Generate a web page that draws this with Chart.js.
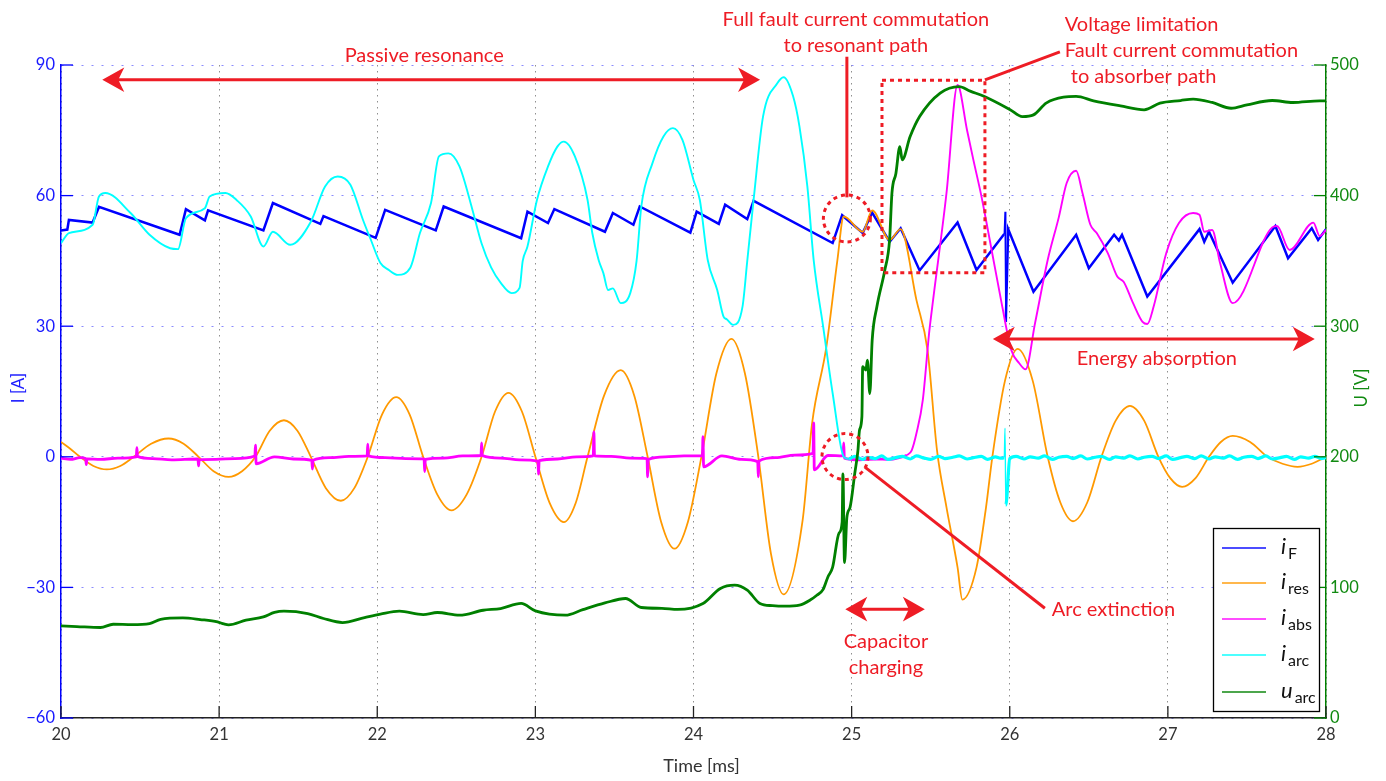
<!DOCTYPE html>
<html>
<head>
<meta charset="utf-8">
<title>Fault current commutation</title>
<script src="https://cdn.jsdelivr.net/npm/chart.js@4.4.1/dist/chart.umd.min.js"></script>
<style>
html,body{margin:0;padding:0;background:#ffffff;}
#wrap{position:relative;width:1386px;height:781px;}
#c{display:block;}
</style>
</head>
<body>
<div id="wrap"><canvas id="c" width="1386" height="781"></canvas></div>
<script>
// ---------------- data (time in ms, currents in A, voltage in V) ----------------
const xTicks = [20, 21, 22, 23, 24, 25, 26, 27, 28];
const leftTicks = [-60, -30, 0, 30, 60, 90];
const rightTicks = [0, 100, 200, 300, 400, 500];

const seriesLabels = ['i_F', 'i_res', 'i_abs', 'i_arc', 'u_arc'];
const legendMain = ['i', 'i', 'i', 'i', 'u'];
const legendSub = ['F', 'res', 'abs', 'arc', 'arc'];

// i_F  (fault current)
const tF = [20.00,20.04,20.05,20.20,20.24,20.75,20.79,20.91,20.93,21.28,21.34,21.64,21.66,21.99,22.05,22.37,22.42,22.91,22.95,23.08,23.12,23.44,23.49,23.62,23.66,23.98,24.02,24.16,24.20,24.34,24.38,24.88,24.94,25.07,25.13,25.24,25.31,25.43,25.67,25.79,25.965,25.97,25.975,25.99,26.15,26.42,26.50,26.66,26.69,26.71,26.87,27.20,27.23,27.26,27.41,27.68,27.76,27.91,27.95,28.00];
const iF = [52.0,52.2,54.4,53.8,57.4,51.0,56.9,54.3,56.6,52.0,58.3,53.5,55.3,50.3,56.7,52.0,57.5,50.2,56.3,53.7,56.9,51.7,56.0,53.3,57.5,51.5,56.3,53.5,57.9,54.6,58.8,49.1,55.5,51.4,56.1,49.4,52.5,42.8,53.8,42.9,51.2,56.3,31.0,52.3,37.9,51.0,43.3,51.0,49.7,51.0,36.8,52.3,49.4,51.7,40.0,53.0,45.6,52.5,49.8,52.3];

// i_res (resonant path current)
const tRes = [20.00,20.06,20.12,20.205,20.29,20.375,20.46,20.57,20.68,20.775,20.87,20.965,21.06,21.145,21.23,21.32,21.41,21.495,21.58,21.675,21.77,21.855,21.94,22.03,22.12,22.205,22.29,22.38,22.47,22.565,22.66,22.745,22.83,22.915,23.00,23.09,23.18,23.255,23.33,23.435,23.54,23.625,23.71,23.795,23.88,23.965,24.05,24.145,24.24,24.325,24.41,24.49,24.57,24.69,24.75,24.84,24.91,24.95,25.07,25.13,25.24,25.31,25.41,25.48,25.54,25.60,25.67,25.70,25.79,25.85,25.89,25.97,26.05,26.145,26.24,26.32,26.40,26.49,26.58,26.67,26.76,26.85,26.94,27.015,27.09,27.175,27.26,27.335,27.41,27.52,27.63,27.725,27.82,27.91,28.00];
const iRes = [3.4,1.8,0,-2.1,-2.9,-2.1,0,3.0,4.2,3.0,0,-3.3,-4.6,-3.3,0,6.0,8.4,6.0,0,-7.2,-10.1,-7.2,0,9.7,13.7,9.7,0,-8.7,-12.3,-8.7,0,10.4,14.7,10.4,0,-10.6,-15.0,-10.6,0,14.1,19.9,14.1,0,-14.9,-21.1,-14.9,0,19.2,27.1,19.2,0,-22.3,-31.6,-14.6,7.7,25.2,45.2,55.2,51.7,56.6,49.8,52.3,36.0,24.5,1.5,-11.6,-25.4,-32.8,-25.4,-11.6,0,17.5,24.8,17.5,0,-10.5,-14.8,-10.5,0,8.3,11.7,8.3,0,-4.9,-6.9,-4.9,0,3.4,4.8,3.4,0,-1.6,-2.3,-1.6,0];

// i_abs (absorber path current)
const tAbs = [20.00,20.06,20.12,20.156,20.16,20.164,20.25,20.36,20.476,20.48,20.484,20.58,20.70,20.866,20.87,20.874,20.98,21.10,21.226,21.23,21.234,21.35,21.47,21.586,21.59,21.594,21.70,21.82,21.936,21.94,21.944,22.05,22.18,22.296,22.30,22.304,22.42,22.54,22.656,22.66,22.664,22.78,22.90,23.016,23.02,23.024,23.14,23.26,23.366,23.37,23.374,23.48,23.60,23.706,23.71,23.714,23.82,23.94,24.056,24.06,24.064,24.18,24.30,24.406,24.41,24.414,24.52,24.64,24.756,24.76,24.764,24.85,24.946,24.95,24.954,25.05,25.15,25.24,25.30,25.35,25.38,25.41,25.45,25.49,25.51,25.60,25.67,25.73,25.77,25.82,25.87,25.95,26.01,26.06,26.10,26.16,26.24,26.31,26.36,26.42,26.46,26.51,26.55,26.62,26.68,26.72,26.78,26.84,26.87,26.91,26.99,27.07,27.16,27.20,27.23,27.28,27.33,27.41,27.66,27.69,27.77,27.92,27.96,28.00];
const iAbs = [-0.3,-0.6,-0.2,-0.4,-1.8,-0.5,-0.6,-0.3,0.0,2.1,0.1,-0.4,-0.7,-0.5,-2.1,-0.7,-0.6,-0.4,0.2,2.7,-1.6,0.0,-0.5,-0.8,-2.8,-0.8,-0.2,0.1,0.2,2.9,0.2,-0.2,-0.4,-0.5,-3.4,-0.6,-0.3,0.2,0.3,3.2,0.3,-0.3,-0.7,-1.0,-4.0,-0.9,-0.5,0.0,0.2,5.7,0.2,0.1,-0.3,-0.4,-4.6,-0.6,0.0,0.2,0.2,4.6,-2.3,0.2,-0.6,-1.1,-4.6,-1.0,-0.2,0.4,0.8,7.8,-3.0,0.3,0.2,3.2,-0.3,-0.7,-0.5,-0.6,-0.2,0.4,1.5,5.4,13.0,28.4,34.5,60.6,85.4,75.0,68.2,60.0,50.5,35.0,24.5,21.5,20.1,30.7,45.2,55.0,62.9,65.7,60.6,53.3,51.4,46.8,41.4,40.2,35.3,31.0,30.5,34.5,46.8,53.7,56.0,55.6,51.7,52.1,44.5,35.3,52.7,53.0,47.5,53.8,50.7,52.1];

// i_arc (arc current)
const tArc = [20.00,20.05,20.20,20.24,20.28,20.44,20.56,20.69,20.74,20.79,20.91,20.94,21.04,21.11,21.20,21.28,21.34,21.45,21.58,21.67,21.75,21.83,21.91,21.96,22.02,22.07,22.13,22.21,22.27,22.34,22.39,22.45,22.52,22.60,22.66,22.72,22.78,22.85,22.90,22.92,22.95,23.01,23.08,23.14,23.18,23.25,23.33,23.36,23.40,23.43,23.46,23.49,23.54,23.60,23.64,23.67,23.74,23.81,23.87,23.93,24.00,24.04,24.09,24.15,24.19,24.21,24.25,24.31,24.34,24.38,24.44,24.53,24.57,24.63,24.67,24.72,24.76,24.82,24.88,24.95,
  24.98,25.02,25.07,25.10,25.15,25.19,25.23,25.28,25.32,25.37,25.41,25.46,25.50,25.55,25.59,25.64,25.68,25.73,25.77,25.82,25.86,25.91,25.94,25.965,25.97,25.975,26.00,26.04,26.09,26.13,26.18,26.22,26.27,26.31,26.36,26.40,26.45,26.49,26.54,26.58,26.63,26.67,26.72,26.76,26.81,26.85,26.90,26.94,26.99,27.03,27.08,27.12,27.17,27.21,27.26,27.30,27.35,27.39,27.44,27.48,27.53,27.57,27.62,27.66,27.71,27.75,27.80,27.84,27.89,27.93,27.97,28.00];
const iArc = [49.1,51.4,53.3,59.8,60.6,56.0,51.0,47.9,47.7,54.8,57.1,59.8,60.6,59.0,55.2,48.3,51.7,48.7,54.0,62.1,64.4,62.5,54.4,49.8,44.5,43.0,41.8,43.5,51.4,58.3,69.0,69.7,66.7,57.0,49.0,43.5,40.0,37.6,38.8,45.0,48.3,59.0,66.7,71.3,72.4,69.0,59.0,51.4,45.2,42.2,38.3,38.7,35.3,37.6,45.0,57.5,67.4,73.6,75.5,72.8,63.6,59.0,45.2,38.3,32.2,31.6,30.3,34.5,45.0,59.0,78.2,85.8,87.2,82.8,75.9,62.1,45.2,29.9,14.6,0.0,
  -0.5,0.1,-0.6,-0.1,-0.4,0.2,-0.6,-0.2,0.1,-0.5,0.2,-0.3,-0.6,0.1,-0.4,-0.1,0.2,-0.5,-0.2,0.1,-0.6,0.0,-0.3,-0.2,6.6,-11.1,-0.4,0.1,-0.5,0.0,-0.3,0.2,-0.6,-0.1,0.1,-0.4,0.2,-0.5,-0.1,0.1,-0.6,0.0,-0.3,0.2,-0.5,-0.1,0.1,-0.4,0.2,-0.6,-0.2,0.1,-0.4,0.2,-0.5,0.0,-0.3,0.2,-0.6,-0.1,0.1,-0.4,0.2,-0.5,-0.2,0.1,-0.6,0.0,-0.3,0.1,-0.4,-0.2];

// u_arc (arc voltage, right axis)
const tU = [20.00,20.10,20.25,20.33,20.45,20.56,20.63,20.77,20.88,20.99,21.03,21.06,21.17,21.28,21.35,21.41,21.56,21.66,21.78,21.92,22.02,22.14,22.29,22.38,22.52,22.67,22.78,22.91,23.00,23.19,23.30,23.44,23.57,23.67,23.80,23.90,24.06,24.17,24.26,24.34,24.42,24.50,24.58,24.67,24.74,24.78,24.82,24.85,24.88,24.92,24.94,24.945,24.955,24.97,24.99,25.02,25.04,25.05,25.065,25.07,25.09,25.10,25.115,25.13,25.16,25.21,25.24,25.255,25.28,25.305,25.32,25.37,25.43,25.56,25.68,25.75,25.84,26.00,26.08,26.15,26.23,26.34,26.42,26.53,26.70,26.85,26.95,27.08,27.16,27.28,27.40,27.50,27.66,27.79,27.96,28.00];
const uArc = [70.5,70.0,69.3,71.8,71.5,72.3,75.6,76.6,75.4,73.6,72.0,71.3,74.9,77.4,80.8,81.8,80.0,76.2,73.1,76.9,79.5,81.8,79.2,80.8,78.7,82.5,83.8,87.7,82.0,78.7,83.0,88.1,91.5,84.6,84.0,83.1,87.7,99.2,101.7,97.9,87.7,86.0,85.6,86.4,90.5,94.0,98.5,108.0,115.5,141.5,150.0,187.0,119.0,153.6,161.3,187.4,205.0,220.5,230.7,269.0,266.4,274.0,248.4,289.4,315.0,343.0,366.0,402.0,417.0,437.5,427.4,445.2,460.5,478.5,483.5,480.0,475.9,466.0,460.5,461.8,470.8,475.4,475.9,472.6,468.7,465.7,470.8,472.8,473.9,471.3,466.9,469.5,472.8,471.3,472.6,472.6];

const seriesColors = ['#0000ff', '#ff9900', '#ff00ff', '#00ffff', '#008000'];

// ---------------- annotations (in data units of the x / left-y axes) ----------------
const RED = '#ee1c25';
const notes = [
  {kind:'darrow', t1:20.261, t2:24.421, v:86.6},
  {kind:'text', t:22.297, v:90.70, align:'center', text:'Passive resonance'},
  {kind:'text', t:25.027, v:99.01, align:'center', text:'Full fault current commutation'},
  {kind:'text', t:25.027, v:93.03, align:'center', text:'to resonant path'},
  {kind:'line', t1:24.97, v1:91.9, t2:24.97, v2:59.6},
  {kind:'circle', t:24.97, v:54.75, r:23.5},
  {kind:'rect', t1:25.192, v1:86.5, t2:25.843, v2:42.3},
  {kind:'line', t1:25.843, v1:86.6, t2:26.317, v2:93.0},
  {kind:'text', t:26.348, v:97.86, align:'left', text:'Voltage limitation'},
  {kind:'text', t:26.348, v:91.89, align:'left', text:'Fault current commutation'},
  {kind:'text', t:26.386, v:85.91, align:'left', text:'to absorber path'},
  {kind:'circle', t:24.958, v:0.05, r:23},
  {kind:'line', t1:25.084, v1:-2.37, t2:26.222, v2:-34.78},
  {kind:'text', t:26.266, v:-36.62, align:'left', text:'Arc extinction'},
  {kind:'darrow', t1:24.96, t2:25.463, v:-35.0},
  {kind:'text', t:25.217, v:-43.98, align:'center', text:'Capacitor'},
  {kind:'text', t:25.217, v:-49.95, align:'center', text:'charging'},
  {kind:'darrow', t1:25.893, t2:27.929, v:27.05},
  {kind:'text', t:26.930, v:21.08, align:'center', text:'Energy absorption'}
];

function check(a, b, n) { if (a.length !== b.length) throw new Error(n + ' length mismatch ' + a.length + ' vs ' + b.length); }
check(tF, iF, 'iF'); check(tRes, iRes, 'iRes'); check(tAbs, iAbs, 'iAbs'); check(tArc, iArc, 'iArc'); check(tU, uArc, 'uArc');

const pts = (ts, vs) => ts.map((t, i) => ({x: t, y: vs[i]}));
const fmt = v => (v < 0 ? '\u2212' + Math.abs(v) : String(v));

function seg(ctx, x1, y1, x2, y2) { ctx.beginPath(); ctx.moveTo(x1, y1); ctx.lineTo(x2, y2); ctx.stroke(); }

function arrowHead(ctx, x, y, dir) {
  const L = 22, W = 12.3, N = 16;
  ctx.beginPath();
  ctx.moveTo(x, y);
  ctx.lineTo(x - dir * L, y - W);
  ctx.lineTo(x - dir * N, y);
  ctx.lineTo(x - dir * L, y + W);
  ctx.closePath();
  ctx.fill();
}

const decorPlugin = {
  id: 'decor',
  afterDatasetsDraw(chart) {
    const {ctx, chartArea: a, scales: {x, y, y1}} = chart;
    const px = t => x.getPixelForValue(t), py = v => y.getPixelForValue(v);
    // inward tick marks (MATLAB style)
    ctx.save();
    ctx.lineWidth = 1.3;
    ctx.strokeStyle = '#222222';
    x.ticks.forEach(t => { const p = x.getPixelForValue(t.value); seg(ctx, p, a.bottom, p, a.bottom - 12); });
    ctx.strokeStyle = '#0000ff';
    y.ticks.forEach(t => { const p = y.getPixelForValue(t.value); seg(ctx, a.left, p, a.left + 12, p); });
    ctx.strokeStyle = '#008000';
    y1.ticks.forEach(t => { const p = y1.getPixelForValue(t.value); seg(ctx, a.right, p, a.right - 12, p); });
    ctx.restore();

    // annotations
    ctx.save();
    ctx.fillStyle = RED; ctx.strokeStyle = RED; ctx.lineWidth = 3;
    ctx.font = '20px Lato';
    ctx.textBaseline = 'alphabetic';
    for (const n of notes) {
      if (n.kind === 'text') {
        ctx.textAlign = n.align;
        ctx.fillText(n.text, px(n.t), py(n.v));
      } else if (n.kind === 'line') {
        ctx.setLineDash([]);
        seg(ctx, px(n.t1), py(n.v1), px(n.t2), py(n.v2));
      } else if (n.kind === 'darrow') {
        const x1 = px(n.t1), x2 = px(n.t2), yy = py(n.v);
        ctx.setLineDash([]);
        seg(ctx, x1 + 14, yy, x2 - 14, yy);
        arrowHead(ctx, x1, yy, -1);
        arrowHead(ctx, x2, yy, 1);
      } else if (n.kind === 'circle') {
        ctx.setLineDash([4, 4]);
        ctx.beginPath(); ctx.arc(px(n.t), py(n.v), n.r, 0, Math.PI * 2); ctx.stroke();
      } else if (n.kind === 'rect') {
        ctx.setLineDash([4, 4]);
        const x1 = px(n.t1), y1p = py(n.v1), x2 = px(n.t2), y2p = py(n.v2);
        ctx.strokeRect(x1, y1p, x2 - x1, y2p - y1p);
      }
    }
    ctx.restore();

    // legend
    ctx.save();
    const bx = 1213, by = 528, bw = 106, bh = 183;
    ctx.fillStyle = '#ffffff'; ctx.fillRect(bx, by, bw, bh);
    ctx.strokeStyle = '#000000'; ctx.lineWidth = 1.3; ctx.strokeRect(bx + 0.5, by + 0.5, bw, bh);
    const rowY = [548, 583, 619, 655, 692];
    chart.data.datasets.forEach((ds, i) => {
      const yy = rowY[i];
      ctx.globalAlpha = 0.7; ctx.strokeStyle = ds.borderColor; ctx.lineWidth = 2;
      seg(ctx, 1222, yy, 1266, yy);
      ctx.globalAlpha = 1;
      ctx.fillStyle = '#111111'; ctx.textAlign = 'left'; ctx.textBaseline = 'alphabetic';
      ctx.font = 'italic 22px Lato';
      ctx.fillText(legendMain[i], 1281, yy + 6);
      const w = ctx.measureText(legendMain[i]).width;
      ctx.font = '16px Lato';
      ctx.fillText(legendSub[i], 1281 + w + 2, yy + 11);
    });
    ctx.restore();

    // axis titles
    ctx.save();
    ctx.textAlign = 'center'; ctx.textBaseline = 'middle';
    ctx.font = '17px Lato';
    ctx.fillStyle = '#1a1aff';
    ctx.save(); ctx.translate(18.5, 388); ctx.rotate(-Math.PI / 2); ctx.fillText('I [A]', 0, 0); ctx.restore();
    ctx.fillStyle = '#118a11';
    ctx.save(); ctx.translate(1362, 388); ctx.rotate(-Math.PI / 2); ctx.fillText('U [V]', 0, 0); ctx.restore();
    ctx.font = '18px Lato';
    ctx.fillStyle = '#333333';
    ctx.fillText('Time [ms]', 701.5, 766);
    ctx.restore();
  }
};

const inSpike = c => c.p0.parsed.x > 25.955 && c.p1.parsed.x < 25.985;

function build() {
  Chart.defaults.font.family = 'Lato';
  const mk = (i, ts, vs, extra) => Object.assign({
    label: seriesLabels[i], data: pts(ts, vs), borderColor: seriesColors[i], backgroundColor: seriesColors[i],
    pointRadius: 0, fill: false, order: 5 - i
  }, extra);
  new Chart(document.getElementById('c'), {
    type: 'line',
    data: {
      datasets: [
        mk(0, tF, iF, {borderWidth: 2.5, tension: 0, yAxisID: 'y',
          segment: {borderWidth: c => (inSpike(c) ? 1.3 : undefined)}}),
        mk(1, tRes, iRes, {borderWidth: 1.8, cubicInterpolationMode: 'monotone', yAxisID: 'y'}),
        mk(2, tAbs, iAbs, {borderWidth: 1.9, cubicInterpolationMode: 'monotone', yAxisID: 'y',
          segment: {borderWidth: c => (c.p1.parsed.x < 25.38 ? 2.8 : undefined)}}),
        mk(3, tArc, iArc, {borderWidth: 1.9, cubicInterpolationMode: 'monotone', yAxisID: 'y',
          segment: {borderWidth: c => (inSpike(c) ? 1.3 : (c.p0.parsed.x >= 24.97 ? 3.2 : undefined))}}),
        mk(4, tU, uArc, {borderWidth: 2.8, cubicInterpolationMode: 'monotone', yAxisID: 'y1'})
      ]
    },
    options: {
      responsive: false, animation: false,
      layout: {padding: {top: 65, left: 0, right: 0, bottom: 0}},
      plugins: {legend: {display: false}, tooltip: {enabled: false}},
      scales: {
        x: {
          type: 'linear', min: 20, max: 28,
          afterBuildTicks: s => { s.ticks = xTicks.map(v => ({value: v})); },
          afterFit: s => { s.height = 63; },
          ticks: {color: '#333333', font: {size: 16.5}, padding: 7, maxRotation: 0, autoSkip: false},
          grid: {color: '#8f8f8f', lineWidth: 1, drawTicks: false},
          border: {display: true, color: '#222222', width: 1.5, dash: [1.5, 4.5]}
        },
        y: {
          type: 'linear', position: 'left', min: -60, max: 90,
          afterBuildTicks: s => { s.ticks = leftTicks.map(v => ({value: v})); },
          afterFit: s => { s.width = 61; },
          ticks: {color: '#1a1aff', font: {size: 16.5}, padding: 6, callback: v => fmt(v)},
          grid: {color: '#8a8aff', lineWidth: 1, drawTicks: false},
          border: {display: true, color: '#0000ff', width: 1.5, dash: [2, 8]}
        },
        y1: {
          type: 'linear', position: 'right', min: 0, max: 500,
          afterBuildTicks: s => { s.ticks = rightTicks.map(v => ({value: v})); },
          afterFit: s => { s.width = 60; },
          ticks: {color: '#118a11', font: {size: 16.5}, padding: 4, callback: v => fmt(v)},
          grid: {display: false, drawTicks: false},
          border: {display: true, color: '#008000', width: 1.5}
        }
      }
    },
    plugins: [decorPlugin]
  });
}

const fontLoads = ['20px Lato', 'italic 22px Lato', '16px Lato'].map(f => document.fonts.load(f).catch(() => null));
Promise.all(fontLoads).then(build, build);
</script>
</body>
</html>
